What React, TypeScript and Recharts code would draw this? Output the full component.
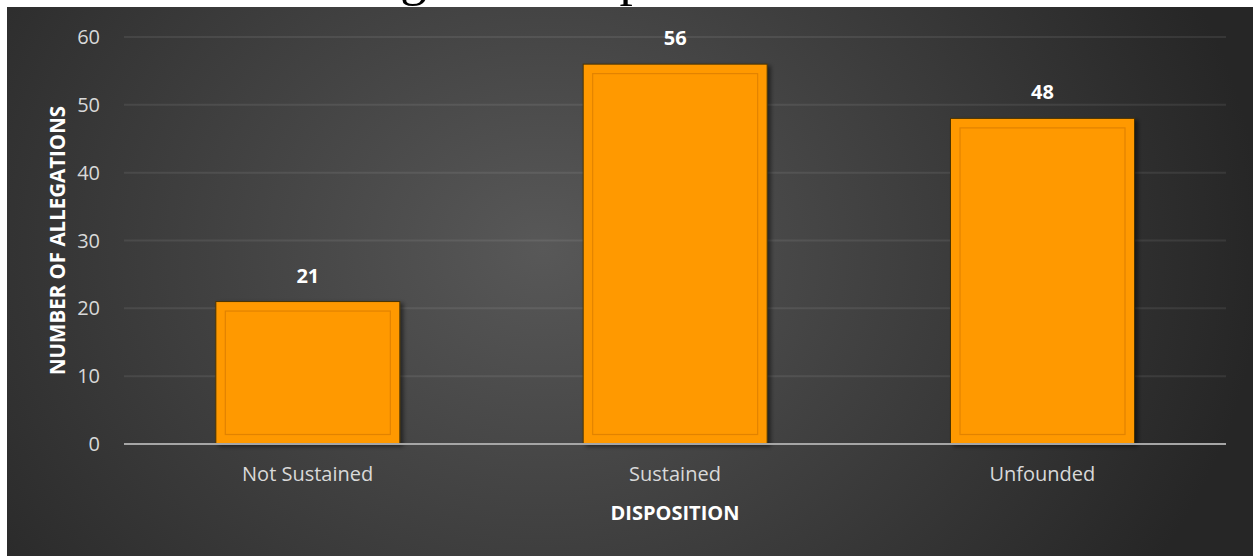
import React from 'react';
import { BarChart, Bar, XAxis, YAxis, CartesianGrid, LabelList, Label } from 'recharts';

// Allegations counted per disposition
const categories = ['Not Sustained', 'Sustained', 'Unfounded'];
const allegationCounts = [21, 56, 48];
const yTicks = [0, 10, 20, 30, 40, 50, 60];

const titleText = 'Allegation Disposition';
const yAxisTitle = 'NUMBER OF ALLEGATIONS';
const xAxisTitle = 'DISPOSITION';

const data = categories.map((category, i) => ({ category, count: allegationCounts[i] }));

const FONT = '"Open Sans", "Noto Sans", sans-serif';
const BAR_FILL = '#FF9900';

// Orange bar with a dark rim, an inset bevel line and a soft shadow
const BeveledBar = (props: any) => {
  const { x, y, width, height } = props;
  if (width == null || height == null || height <= 0) return null;
  const inset = 9.5;
  return (
    <g>
      <rect
        x={x}
        y={y}
        width={width}
        height={height}
        fill={BAR_FILL}
        stroke="#4a3300"
        strokeWidth={1}
        filter="url(#barShadow)"
      />
      {height > inset * 2 && (
        <rect
          x={x + inset}
          y={y + inset}
          width={width - inset * 2}
          height={height - inset * 2}
          fill="none"
          stroke="rgba(190,105,0,0.45)"
          strokeWidth={1.2}
        />
      )}
    </g>
  );
};

const ValueLabel = (props: any) => {
  const { x, y, width, value } = props;
  return (
    <text
      x={Number(x) + Number(width) / 2}
      y={Number(y) - 19}
      textAnchor="middle"
      fill="#ffffff"
      fontFamily={FONT}
      fontWeight={700}
      fontSize={20}
    >
      {value}
    </text>
  );
};

const YTitle = (props: any) => {
  const vb = props.viewBox || { x: 0, y: 30, width: 117, height: 407 };
  const cx = vb.x + 58;
  const cy = vb.y + vb.height / 2;
  return (
    <text
      transform={`translate(${cx},${cy}) rotate(-90)`}
      x={0}
      y={0}
      textAnchor="middle"
      fill="#ffffff"
      fontFamily={FONT}
      fontWeight={700}
      fontSize={20.5}
    >
      {yAxisTitle}
    </text>
  );
};

const XTitle = (props: any) => {
  const vb = props.viewBox || { x: 117, y: 437, width: 1102, height: 112 };
  return (
    <text
      x={vb.x + vb.width / 2}
      y={vb.y + 76}
      textAnchor="middle"
      fill="#ffffff"
      fontFamily={FONT}
      fontWeight={700}
      fontSize={20}
    >
      {xAxisTitle}
    </text>
  );
};

export default function App() {
  return (
    <div
      style={{
        position: 'absolute',
        left: 0,
        top: 0,
        width: 1253,
        height: 556,
        background: '#ffffff',
        overflow: 'hidden',
      }}
    >
      {/* Page title sitting above the chart panel */}
      <svg
        width={1253}
        height={12}
        style={{ position: 'absolute', left: 0, top: 0, overflow: 'visible' }}
      >
        <text x={309} y={-5.5} fontFamily='"Liberation Serif", "Times New Roman", serif' fontSize={53} fill="#000000">
          {titleText}
        </text>
      </svg>
      <div
        style={{
          position: 'absolute',
          left: 7,
          top: 7,
          width: 1246,
          height: 549,
          background: 'radial-gradient(ellipse 720px 600px at 43% 44%, #585858 0%, #262626 100%)',
        }}
      >
        <BarChart
          width={1246}
          height={549}
          data={data}
          margin={{ top: 30, right: 27, left: 0, bottom: 0 }}
          barCategoryGap="25%"
        >
          <defs>
            <filter id="barShadow" x="-10%" y="-10%" width="130%" height="130%">
              <feDropShadow dx={3} dy={2} stdDeviation={2} floodColor="#000000" floodOpacity={0.5} />
            </filter>
          </defs>
          <CartesianGrid
            vertical={false}
            stroke="rgba(255,255,255,0.08)"
            strokeWidth={2}
          />
          <XAxis
            dataKey="category"
            height={112}
            tickLine={false}
            tickSize={0}
            tickMargin={23}
            axisLine={{ stroke: '#a6a6a6', strokeWidth: 2 }}
            tick={{ fill: '#d9d9d9', fontSize: 20, fontFamily: FONT }}
            interval={0}
          >
            <Label content={<XTitle />} />
          </XAxis>
          <YAxis
            width={117}
            domain={[0, 60]}
            ticks={yTicks}
            tickLine={false}
            axisLine={false}
            tickSize={0}
            tickMargin={24}
            tick={{ fill: '#d9d9d9', fontSize: 20, fontFamily: FONT }}
            interval={0}
          >
            <Label content={<YTitle />} />
          </YAxis>
          <Bar dataKey="count" shape={<BeveledBar />} isAnimationActive={false}>
            <LabelList dataKey="count" content={<ValueLabel />} />
          </Bar>
        </BarChart>
      </div>
    </div>
  );
}
